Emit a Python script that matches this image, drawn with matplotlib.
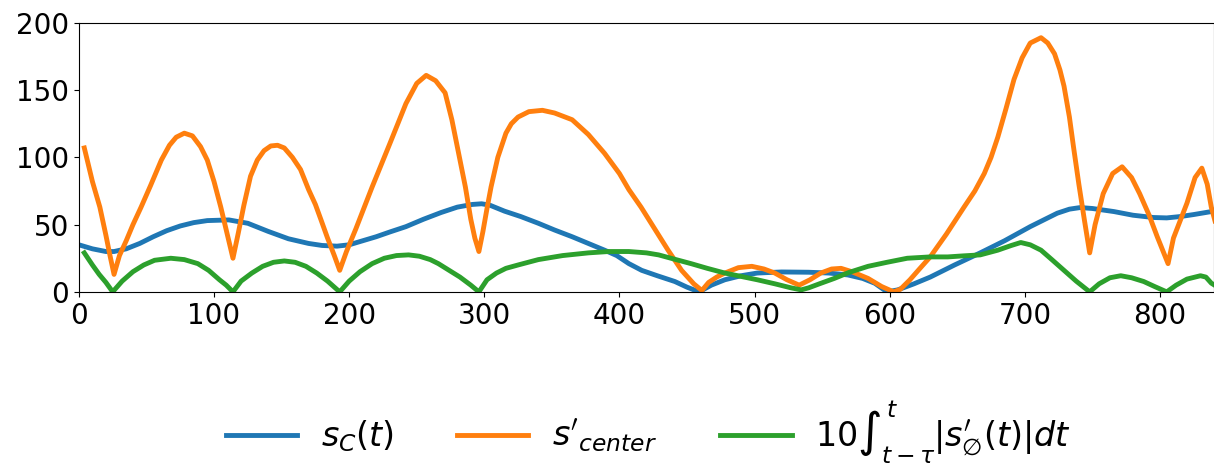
import matplotlib.pyplot as plt

# values
t_sc = [0, 10, 20, 26, 35, 45, 55, 65, 75, 85, 95, 111, 125, 140, 155, 170, 180, 191,
        200, 210, 220, 230, 242, 255, 268, 280, 291, 298, 304, 315, 327, 340, 352, 365,
        377, 389, 398, 407, 416.5, 428, 441, 450, 459, 468, 478, 490, 502, 520, 540, 555,
        569, 580, 589, 598, 606, 618, 630, 648, 667, 685, 704, 715, 724, 733, 741, 750,
        766, 780, 795, 805, 815, 825, 838, 845]
s_c = [35, 32, 30, 30, 32, 36, 41, 45.5, 49, 51.5, 53, 53.5, 51, 45, 39.5, 36, 34.5, 34,
       35, 38, 41, 44.5, 48.5, 54, 59, 63, 65, 65.5, 64.5, 60, 56, 51, 46, 41,
       36, 31, 27, 21, 16, 12, 7.7, 3.5, 0, 5, 9, 12, 14, 14.8, 14.6, 14,
       12.6, 10, 6.4, 0, 1.5, 6, 11, 20, 29, 38, 48.5, 54, 58.5, 61.5, 62.7, 62,
       59.7, 57, 55.3, 55, 56, 57.5, 59.7, 60]

t_center = [4, 10, 15.5, 20, 23, 26, 30, 35, 40, 46, 53, 61, 67, 72, 78, 84, 90, 95,
            100, 105, 110, 114, 118, 122, 127, 132, 137, 142, 147, 152, 158, 164, 170,
            175, 179, 184, 189, 193, 198, 205, 217, 230, 242, 250, 257, 264, 271, 276,
            281, 286, 290, 293, 296, 299, 302, 305, 310, 316, 320, 325, 333, 343, 352,
            365, 377, 389, 400, 407, 416, 426, 436, 446, 455, 461, 466, 472, 478, 488,
            498, 507, 515, 524, 533, 541, 549, 557, 564, 572, 584, 594, 603, 608, 615,
            622, 630, 642, 655, 663, 670, 675, 680, 686, 692, 698, 704, 712, 717, 722,
            726, 729, 733, 736, 740, 744, 748, 752, 758, 765, 772, 779, 785, 792, 798,
            802, 806, 810, 815, 820, 826, 831, 835, 838, 842]
s_center = [107, 82, 63, 42, 27, 13, 27, 38, 50, 63, 79, 98, 109, 115, 118, 116, 108, 98,
            82, 63, 42, 25, 44, 64, 86, 98, 105, 108.5, 109, 107, 100, 91, 76,
            65, 54, 40, 27, 16, 30, 47, 78, 110, 140, 155, 161, 157, 148, 128,
            103, 78, 54, 40, 30, 45, 62, 78, 100, 118, 125, 130, 134, 135, 133,
            128, 117, 103, 88, 76, 63, 47, 31, 16, 6, 1, 7, 11, 14, 18,
            19, 17, 14, 9, 5, 9, 14, 17, 17.5, 15, 10, 4, 0, 2, 9,
            17, 26, 43, 63, 75, 88, 100, 115, 136, 158, 174, 185, 189, 185, 177,
            165, 153, 130, 108, 80, 54, 29, 50, 73, 88, 93, 85, 73, 57, 41,
            31, 21, 40, 53, 66, 85, 92, 80, 63, 48]

t_int = [4, 10, 15, 20, 25, 32, 40, 48, 56, 68, 78, 88, 96, 104, 109, 114, 120, 128,
         136, 144, 152, 160, 168, 176, 184, 193, 200, 208, 217, 226, 235, 244, 252, 260,
         266, 274, 282, 290, 296, 302, 309, 316, 325, 340, 358, 377, 392, 407, 420, 429,
         440, 453, 465, 478, 490, 502, 515, 527, 534.5, 540, 548, 559, 570, 584, 598, 613,
         630, 643, 655, 667, 680, 690, 697, 704, 712, 720, 729, 738, 748, 755, 763, 771,
         779, 788, 796, 805, 812, 820, 830, 834, 838, 842]
s_int = [29, 20, 13, 7, 0, 8, 15, 20, 23.5, 25, 24, 21, 16, 9, 5, 0, 8, 14,
         19, 22, 23, 22, 19, 14, 8, 0, 8, 15, 21, 25, 27, 27.5, 26.5, 24,
         21, 16, 11, 5, 0, 9, 14, 17.5, 20, 24, 27, 29, 30, 30, 29, 27.5,
         24.5, 21, 17.5, 14, 11.5, 9, 6, 3, 1.5, 3, 6, 10, 14.5, 19, 22, 25,
         26, 26, 26.8, 27.5, 31, 34.5, 36.7, 35, 31, 24, 16, 8, 0, 6, 10.5, 12,
         10.5, 7.7, 4, 0, 5, 9.5, 12, 11, 6.5, 4]

fig = plt.figure(figsize=(12.14, 4.67), dpi=100)
ax = fig.add_axes([0.065, 0.375, 0.935, 0.576])

ax.plot(t_sc, s_c, color='#1f77b4', lw=3.5, label=r'$s_C(t)$')
ax.plot(t_center, s_center, color='#ff7f0e', lw=3.5, label=r"$s'_{center}$")
ax.plot(t_int, s_int, color='#2ca02c', lw=3.5,
        label=r'$10\int_{t-\tau}^{t}|s^{\prime}_{\varnothing}(t)|dt$')

ax.set_xlim(0, 840)
ax.set_ylim(0, 200)
ax.set_xticks([0, 100, 200, 300, 400, 500, 600, 700, 800])
ax.set_yticks([0, 50, 100, 150, 200])
ax.tick_params(labelsize=20)

fig.legend(loc='center', bbox_to_anchor=(0.534, 0.074), ncol=3, frameon=False,
           fontsize=24, handlelength=2.15, handletextpad=0.7, columnspacing=1.9,
           borderpad=0.2)

fig.savefig('out.png', dpi=100)
